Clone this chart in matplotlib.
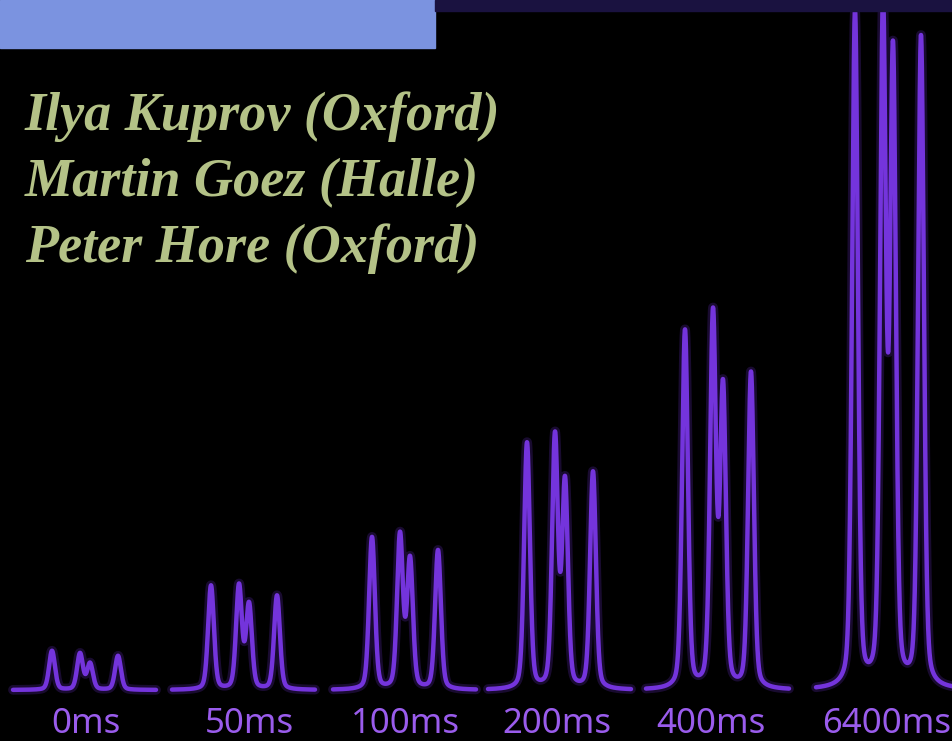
import numpy as np
import matplotlib.pyplot as plt
from matplotlib.patches import Rectangle

# Данные: задержки и высоты четырёх линий спектра (в условных единицах)
delays = ['0ms', '50ms', '100ms', '200ms', '400ms', '6400ms']
peak_shift = [0, 28, 38, 66]
heights = [
    [39, 36, 26, 34],
    [104, 103, 84, 94],
    [152, 153, 128, 139],
    [246, 250, 204, 217],
    [358, 370, 296, 316],
    [675, 668, 622, 650],
]
names = ['Ilya Kuprov (Oxford)', 'Martin Goez (Halle)', 'Peter Hore (Oxford)']

# раскладка
panel_x = [52, 211, 372, 527, 685, 855]
label_x = [86, 249, 405, 557, 711, 887]
baseline = 51
sigma = 2.9      # гауссова часть
gamma = 3.6      # лоренцева часть
frac_g = 0.72

line_col = '#7434dc'
label_col = '#9a5cec'
name_col = '#b4c287'


def line_shape(x, c):
    g = np.exp(-(x - c) ** 2 / (2 * sigma ** 2))
    l = 1 / (1 + ((x - c) / gamma) ** 2)
    return frac_g * g + (1 - frac_g) * l


fig = plt.figure(figsize=(9.52, 7.41), dpi=100, facecolor='black')
ax = fig.add_axes([0, 0, 1, 1])
ax.set_facecolor('black')
ax.set_xlim(0, 952)
ax.set_ylim(0, 741)
ax.axis('off')

for x0, h in zip(panel_x, heights):
    x = np.linspace(x0 - 39, x0 + 104, 1500)
    y = np.full_like(x, baseline, dtype=float)
    for p, a in zip(peak_shift, h):
        y += a * line_shape(x, x0 + p)
    ax.plot(x, y, color=line_col, lw=7, alpha=0.22, solid_capstyle='round')
    ax.plot(x, y, color=line_col, lw=3.2, solid_capstyle='round')

for lx, d in zip(label_x, delays):
    fig.text(lx / 952, 1 - 733 / 741, d, ha='center', va='baseline',
             fontsize=25, color=label_col, family='Noto Sans')

# плашки сверху
fig.patches.append(Rectangle((0, 1 - 48 / 741), 435 / 952, 48 / 741,
                             transform=fig.transFigure, color='#7b93e0', zorder=5))
fig.patches.append(Rectangle((435 / 952, 1 - 11 / 741), 517 / 952, 11 / 741,
                             transform=fig.transFigure, color='#1a1240', zorder=5))

for i, n in enumerate(names):
    fig.text(25 / 952, 1 - (130 + 66 * i) / 741, n, ha='left', va='baseline',
             fontsize=39, color=name_col, family='Liberation Serif',
             weight='bold', style='italic')

plt.savefig('out.png', dpi=100, facecolor='black')
